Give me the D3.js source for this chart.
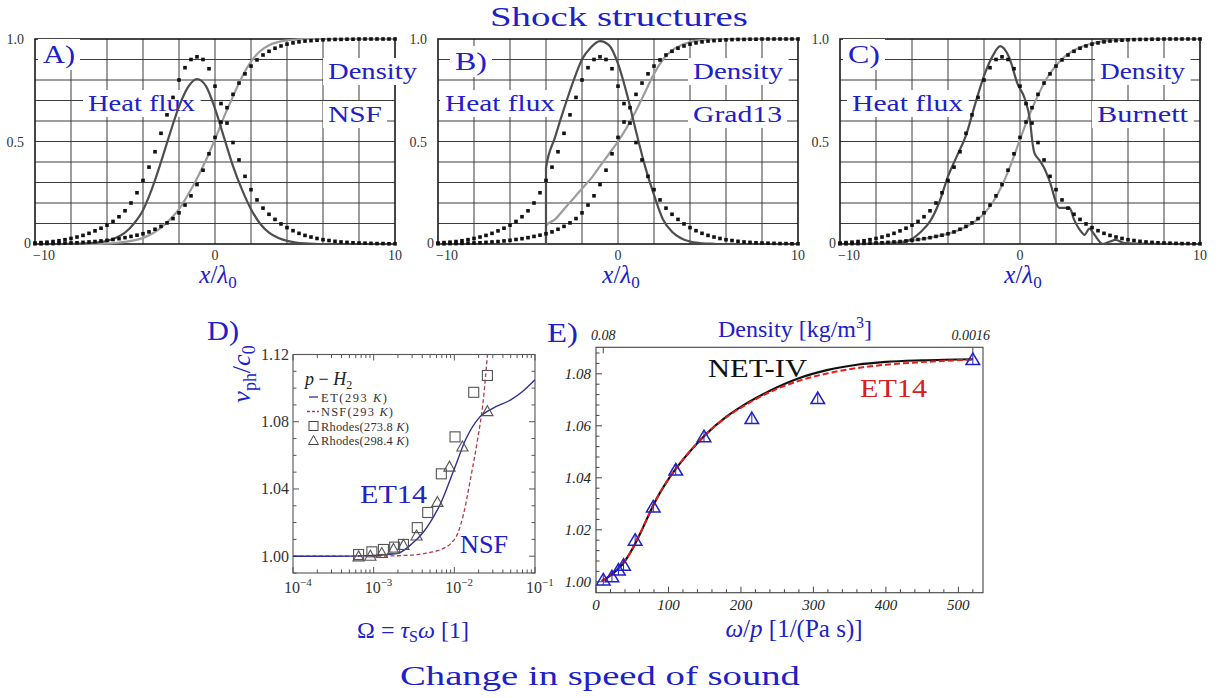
<!DOCTYPE html>
<html><head><meta charset="utf-8">
<script src="https://cdn.jsdelivr.net/npm/d3@7"></script>
<style>
body{margin:0;background:#fff}
svg{display:block}
text{font-family:"Liberation Serif","Times New Roman",serif}
</style>
</head><body>
<svg id="c" width="1222" height="698"></svg>
<script>
// ---------------- DATA ----------------
// DSMC reference (dots) sampled every 1/3 mean free path, x/lambda0 from -10 to 10
const shockX = d3.range(61).map(i => -10 + i / 3);
const dsmcHeat = [
  0.005, 0.007, 0.009, 0.012, 0.016, 0.021, 0.027, 0.034, 0.042, 0.052,
  0.064, 0.077, 0.092, 0.110, 0.133, 0.162, 0.200, 0.250, 0.310, 0.375,
  0.450, 0.540, 0.630, 0.715, 0.800, 0.860, 0.900, 0.913, 0.900, 0.855,
  0.770, 0.685, 0.590, 0.495, 0.410, 0.330, 0.265, 0.215, 0.175, 0.145,
  0.120, 0.098, 0.080, 0.065, 0.052, 0.042, 0.034, 0.027, 0.021, 0.017,
  0.013, 0.010, 0.008, 0.006, 0.005, 0.004, 0.003, 0.002, 0.002, 0.001, 0.001
];
const dsmcDensity = [
  0.001, 0.001, 0.002, 0.002, 0.003, 0.004, 0.005, 0.006, 0.008, 0.010,
  0.012, 0.015, 0.018, 0.022, 0.026, 0.031, 0.037, 0.043, 0.050, 0.059,
  0.072, 0.086, 0.103, 0.124, 0.152, 0.190, 0.235, 0.290, 0.360, 0.440,
  0.520, 0.595, 0.665, 0.730, 0.785, 0.830, 0.868, 0.898, 0.922, 0.940,
  0.955, 0.966, 0.975, 0.981, 0.986, 0.990, 0.992, 0.994, 0.996, 0.997,
  0.998, 0.998, 0.999, 0.999, 1, 1, 1, 1, 1, 1, 1
];
// model curves sampled every 0.5
const halfX = d3.range(41).map(i => -10 + i * 0.5);
const nsfHeat = [
  0, 0, 0, 0, 0.001, 0.002, 0.004, 0.008, 0.015, 0.030,
  0.055, 0.100, 0.165, 0.270, 0.400, 0.540, 0.670, 0.765, 0.805, 0.770,
  0.660, 0.520, 0.380, 0.265, 0.170, 0.100, 0.055, 0.030, 0.015, 0.007,
  0.003, 0.001, 0, 0, 0, 0, 0, 0, 0, 0, 0
];
const nsfDensity = [
  0, 0, 0, 0, 0, 0, 0, 0, 0.002, 0.005,
  0.010, 0.018, 0.030, 0.050, 0.080, 0.120, 0.170, 0.240, 0.320, 0.410,
  0.510, 0.620, 0.720, 0.815, 0.890, 0.940, 0.970, 0.985, 0.993, 0.997,
  1, 1, 1, 1, 1, 1, 1, 1, 1, 1, 1
];
const grad13X = [-10, -4.001, -4, -3.5, -3, -2.5, -2, -1.5, -1, -0.5, 0, 0.5, 1, 1.5, 2, 2.5, 3, 3.5, 4, 4.5, 5, 5.5, 10];
const grad13Heat = [0, 0, 0.37, 0.52, 0.66, 0.79, 0.90, 0.96, 0.99, 0.97, 0.88, 0.73, 0.55, 0.38, 0.24, 0.12, 0.06, 0.028, 0.012, 0.005, 0.002, 0, 0];
const grad13Density = [0, 0, 0.09, 0.12, 0.17, 0.22, 0.27, 0.32, 0.38, 0.44, 0.50, 0.57, 0.65, 0.74, 0.83, 0.90, 0.945, 0.97, 0.985, 0.993, 0.997, 1, 1];
const burnettHeatX = [-10, -7.5, -7, -6.5, -6, -5.5, -5, -4.5, -4, -3.5, -3, -2.5, -2, -1.5, -1.1, -0.6, -0.13, 0.24, 0.56, 0.7,
  0.8, 1.07, 1.35, 1.63, 2.19, 2.75, 3.0, 3.4, 3.58, 3.86, 4.1, 4.6, 5.0, 5.3, 5.8, 7, 10];
const burnettHeat = [0, 0, 0.002, 0.008, 0.025, 0.06, 0.11, 0.2, 0.33, 0.43, 0.53, 0.68, 0.82, 0.92, 0.965, 0.91, 0.78, 0.715, 0.6, 0.49,
  0.445, 0.41, 0.37, 0.31, 0.176, 0.176, 0.12, 0.06, 0.045, 0.075, 0.05, 0.0, 0.012, 0.02, 0.005, 0.001, 0];
const burnettDensity = [
  0, 0, 0.001, 0.002, 0.004, 0.006, 0.009, 0.013, 0.018, 0.024,
  0.031, 0.040, 0.050, 0.064, 0.083, 0.110, 0.148, 0.205, 0.285, 0.390,
  0.510, 0.625, 0.725, 0.810, 0.870, 0.915, 0.945, 0.965, 0.978, 0.987,
  0.993, 0.996, 0.998, 0.999, 1, 1, 1, 1, 1, 1, 1
];
const shockGridX = [-8, -6, -4, -2, 0, 2, 4, 6, 8];
const shockGridY = [0.1, 0.2, 0.3, 0.4, 0.5, 0.6, 0.7, 0.8, 0.9];

// Panel D: p-H2 dispersion
const etOmega = [1e-4, 3e-4, 1e-3, 1.5e-3, 2e-3, 3e-3, 4e-3, 5e-3, 7e-3, 1e-2, 1.4e-2, 2e-2, 3e-2, 5e-2, 7e-2, 1e-1];
const etSpeed = [1.0, 1.0, 1.0005, 1.001, 1.0017, 1.0075, 1.0135, 1.02, 1.033, 1.052, 1.07, 1.082, 1.088, 1.093, 1.098, 1.105];
const nsfOmega = [1e-4, 1e-3, 2.5e-3, 5e-3, 7e-3, 9e-3, 1.1e-2, 1.3e-2, 1.6e-2, 1.95e-2, 2.25e-2, 2.6e-2, 2.8e-2];
const nsfSpeed = [1.0, 1.0, 1.0005, 1.0022, 1.0042, 1.0075, 1.0135, 1.025, 1.047, 1.07, 1.09, 1.122, 1.14];
const rhodes273Omega = [6.5e-4, 9.5e-4, 1.32e-3, 1.82e-3, 2.34e-3, 3.47e-3, 4.68e-3, 6.9e-3, 1.02e-2, 1.74e-2, 2.57e-2];
const rhodes273Speed = [1.001, 1.0026, 1.004, 1.0054, 1.007, 1.017, 1.026, 1.049, 1.071, 1.0975, 1.1075];
const rhodes298Omega = [6.5e-4, 9.1e-4, 1.26e-3, 1.76e-3, 2.34e-3, 3.4e-3, 6.17e-3, 8.7e-3, 1.26e-2, 2.57e-2];
const rhodes298Speed = [0.9996, 1.0, 1.0016, 1.004, 1.0064, 1.012, 1.032, 1.053, 1.065, 1.086];
const dTicksY = ["1.00", "1.04", "1.08", "1.12"];
const dDecades = [-4, -3, -2, -1];
const dLegend = ["ET(293 ", "NSF(293 ", "Rhodes(273.8 ", "Rhodes(298.4 "];

// Panel E: speed vs omega/p
const netX = [8, 20, 30, 40, 50, 60, 70, 80, 100, 120, 150, 180, 210, 240, 280, 320, 360, 400, 450, 520];
const netIV = [1.0003, 1.0025, 1.0048, 1.008, 1.0125, 1.018, 1.024, 1.030, 1.0395, 1.047, 1.0563, 1.0635, 1.069, 1.0735, 1.0783, 1.0815, 1.0835, 1.0846, 1.0852, 1.0856];
const et14 = [1.0003, 1.0025, 1.0048, 1.008, 1.0125, 1.018, 1.024, 1.030, 1.0395, 1.047, 1.0563, 1.0633, 1.0686, 1.073, 1.0773, 1.0802, 1.0822, 1.0835, 1.0845, 1.0855];
const expX = [10, 22, 31, 38, 54, 79, 110, 149, 215, 306, 520];
const expSpeed = [1.0007, 1.0019, 1.0045, 1.0064, 1.016, 1.0288, 1.043, 1.0558, 1.0628, 1.0705, 1.0855];
const eTicksY = ["1.00", "1.02", "1.04", "1.06", "1.08"];
const eTicksX = [0, 100, 200, 300, 400, 500];
const eTopTicks = [{x: 10, label: "0.08"}, {x: 520, label: "0.0016"}];

// ---------------- DRAWING ----------------
const svg = d3.select('#c');
const BLUE = '#2020c8';
svg.append('rect').attr('width', 1222).attr('height', 698).attr('fill', '#fff');

function txt(g, x, y, str, o = {}) {
  const t = g.append('text').attr('x', x).attr('y', y)
    .attr('font-size', o.size || 16).attr('fill', o.fill || '#222')
    .attr('text-anchor', o.anchor || 'start');
  if (o.italic) t.attr('font-style', 'italic');
  t.text(str);
  if (o.len) t.attr('textLength', o.len).attr('lengthAdjust', 'spacingAndGlyphs');
  return t;
}
function boxed(g, x, y, str, size, len) {
  const t = txt(g, x, y, str, {size, len, fill: BLUE});
  const b = t.node().getBBox();
  g.insert('rect', () => t.node()).attr('x', b.x - 5).attr('y', b.y - 1)
    .attr('width', b.width + 10).attr('height', b.height + 2).attr('fill', '#fff');
  return t;
}

// titles
txt(svg, 619, 26, 'Shock structures', {size: 28, fill: BLUE, anchor: 'middle', len: 258});
txt(svg, 600, 685, 'Change in speed of sound', {size: 28, fill: BLUE, anchor: 'middle', len: 400});

const panels = [
  {x0: 35, x1: 395, tag: 'A)', tagY: 63, heatX: halfX, heat: nsfHeat, densX: halfX, dens: nsfDensity, name: 'NSF',
   lab: {tagX: 43, heatX: 88, heatLen: 107, densX: 328, densLen: 89, nameX: 328, nameLen: 54}, curve: d3.curveMonotoneX},
  {x0: 438, x1: 798, tag: 'B)', tagY: 70, heatX: grad13X, heat: grad13Heat, densX: grad13X, dens: grad13Density, name: 'Grad13',
   lab: {tagX: 455, heatX: 445, heatLen: 110, densX: 693, densLen: 90, nameX: 693, nameLen: 89}, curve: d3.curveMonotoneX},
  {x0: 840, x1: 1200, tag: 'C)', tagY: 63, heatX: burnettHeatX, heat: burnettHeat, densX: halfX, dens: burnettDensity, name: 'Burnett',
   lab: {tagX: 848, heatX: 852, heatLen: 111, densX: 1100, densLen: 85, nameX: 1097, nameLen: 91}, curve: d3.curveMonotoneX}
];

panels.forEach(p => {
  const x = d3.scaleLinear().domain([-10, 10]).range([p.x0, p.x1]);
  const y = d3.scaleLinear().domain([0, 1]).range([244, 39]);
  const g = svg.append('g');
  g.selectAll('line.vg').data(shockGridX).join('line').attr('class', 'vg')
    .attr('x1', d => x(d)).attr('x2', d => x(d)).attr('y1', y(0)).attr('y2', y(1))
    .attr('stroke', '#3c3c3c').attr('stroke-width', 1);
  g.selectAll('line.hg').data(shockGridY).join('line').attr('class', 'hg')
    .attr('y1', d => y(d)).attr('y2', d => y(d)).attr('x1', x(-10)).attr('x2', x(10))
    .attr('stroke', '#3c3c3c').attr('stroke-width', 1);
  g.append('rect').attr('x', x(-10)).attr('y', y(1)).attr('width', x(10) - x(-10)).attr('height', y(0) - y(1))
    .attr('fill', 'none').attr('stroke', '#1a1a1a').attr('stroke-width', 1.6);
  // tick labels
  txt(g, p.x0 - 11, y(1) + 4.5, '1.0', {size: 14, anchor: 'end', fill: '#333'});
  txt(g, p.x0 - 11, y(0.5) + 5, '0.5', {size: 14, anchor: 'end', fill: '#333'});
  txt(g, p.x0 - 4, y(0) + 4, '0', {size: 14, anchor: 'end', fill: '#333'});
  txt(g, p.x0 - 2, 260, '\u221210', {size: 14, fill: '#333'});
  txt(g, x(0), 260, '0', {size: 14, anchor: 'middle', fill: '#333'});
  txt(g, x(10), 260, '10', {size: 14, anchor: 'middle', fill: '#333'});
  // axis label x/lambda0
  const xl = g.append('text').attr('x', x(0) + 3).attr('y', 283).attr('text-anchor', 'middle')
    .attr('font-size', 25).attr('fill', BLUE);
  xl.append('tspan').attr('font-style', 'italic').text('x');
  xl.append('tspan').text('/');
  xl.append('tspan').attr('font-style', 'italic').text('\u03bb');
  xl.append('tspan').attr('font-size', 17).attr('dy', 5).text('0');
  // labels with white boxes
  boxed(g, p.lab.tagX, p.tagY, p.tag, 26, 32);
  boxed(g, p.lab.heatX, 111, 'Heat flux', 23, p.lab.heatLen);
  boxed(g, p.lab.densX, 79, 'Density', 23, p.lab.densLen);
  boxed(g, p.lab.nameX, 122, p.name, 23, p.lab.nameLen);
  // curves
  const mk = (xs, curve) => d3.line().x((d, i) => x(xs[i])).y(d => y(d)).curve(curve);
  g.append('path').attr('d', mk(p.densX, p.curve)(p.dens)).attr('fill', 'none')
    .attr('stroke', '#9c9c9c').attr('stroke-width', 2.2);
  g.append('path').attr('d', mk(p.heatX, p.curve)(p.heat)).attr('fill', 'none')
    .attr('stroke', '#4e4e4e').attr('stroke-width', 2.2);
  // DSMC dots
  [dsmcHeat, dsmcDensity].forEach(arr => {
    g.selectAll(null).data(arr).join('rect')
      .attr('x', (d, i) => x(shockX[i]) - 1.8).attr('y', d => y(d) - 1.8)
      .attr('width', 3.6).attr('height', 3.6).attr('fill', '#111');
  });
});

// ---------------- Panel D ----------------
(function () {
  const x = d3.scaleLog().domain([1e-4, 1e-1]).range([293, 535]);
  const y = d3.scaleLinear().domain([0.99, 1.12]).range([573, 354.5]);
  const g = svg.append('g');
  const L = 293, R = 535, T = 354.5, B = 573;
  g.append('defs').append('clipPath').attr('id', 'clipD').append('rect')
    .attr('x', L).attr('y', T).attr('width', R - L).attr('height', B - T);
  g.append('rect').attr('x', L).attr('y', T).attr('width', R - L).attr('height', B - T)
    .attr('fill', 'none').attr('stroke', '#555').attr('stroke-width', 1.1);
  // ticks
  const xt = [];
  dDecades.forEach(e => {
    xt.push({v: Math.pow(10, e), major: true});
    if (e < -1) for (let k = 2; k <= 9; k++) xt.push({v: k * Math.pow(10, e), major: false});
  });
  xt.forEach(t => {
    const len = t.major ? 6 : 3.5, px = x(t.v);
    g.append('line').attr('x1', px).attr('x2', px).attr('y1', B).attr('y2', B - len).attr('stroke', '#555');
    g.append('line').attr('x1', px).attr('x2', px).attr('y1', T).attr('y2', T + len).attr('stroke', '#555');
  });
  for (let k = 0; k <= 13; k++) {
    const v = 0.99 + k * 0.01, major = (k % 4 === 1), len = major ? 6 : 3.5, py = y(v);
    g.append('line').attr('x1', L).attr('x2', L + len).attr('y1', py).attr('y2', py).attr('stroke', '#555');
    g.append('line').attr('x1', R).attr('x2', R - len).attr('y1', py).attr('y2', py).attr('stroke', '#555');
  }
  dTicksY.forEach(s => txt(g, 289, y(+s) + 5.5, s, {size: 16, anchor: 'end', fill: '#333'}));
  dDecades.forEach(e => {
    const t = g.append('text').attr('x', x(Math.pow(10, e)) - 9).attr('y', 593).attr('font-size', 16).attr('fill', '#333');
    t.append('tspan').text('10');
    t.append('tspan').attr('font-size', 11).attr('dy', -7).text('\u2212' + (-e));
  });
  // curves
  const ln = (xs) => d3.line().x((d, i) => x(xs[i])).y(d => y(d)).curve(d3.curveMonotoneX);
  g.append('path').attr('clip-path', 'url(#clipD)').attr('d', ln(nsfOmega)(nsfSpeed)).attr('fill', 'none')
    .attr('stroke', '#b23a4c').attr('stroke-width', 1.3).attr('stroke-dasharray', '4,2.5');
  g.append('path').attr('clip-path', 'url(#clipD)').attr('d', ln(etOmega)(etSpeed)).attr('fill', 'none')
    .attr('stroke', '#2f2f96').attr('stroke-width', 1.4);
  // markers
  g.selectAll(null).data(rhodes273Speed).join('rect')
    .attr('x', (d, i) => x(rhodes273Omega[i]) - 5).attr('y', d => y(d) - 5).attr('width', 10).attr('height', 10)
    .attr('fill', 'none').attr('stroke', '#555').attr('stroke-width', 1.1);
  const tri = 'M0,-6 L5.6,4 L-5.6,4 Z';
  g.selectAll(null).data(rhodes298Speed).join('path')
    .attr('d', tri).attr('transform', (d, i) => `translate(${x(rhodes298Omega[i])},${y(d)})`)
    .attr('fill', 'none').attr('stroke', '#555').attr('stroke-width', 1.1);
  // legend
  const pt = g.append('text').attr('x', 305).attr('y', 385).attr('font-size', 18).attr('fill', '#222');
  pt.append('tspan').attr('font-style', 'italic').text('p');
  pt.append('tspan').text(' \u2212 ');
  pt.append('tspan').attr('font-style', 'italic').text('H');
  pt.append('tspan').attr('font-size', 12).attr('dy', 4).text('2');
  const legY = [397, 411.5, 426, 440.5];
  const legLen = [66, 72, 88, 88];
  dLegend.forEach((s, i) => {
    const ly = legY[i];
    if (i === 0) g.append('line').attr('x1', 309).attr('x2', 318).attr('y1', ly).attr('y2', ly).attr('stroke', '#2f2f96').attr('stroke-width', 1.3);
    if (i === 1) g.append('line').attr('x1', 307).attr('x2', 319).attr('y1', ly).attr('y2', ly).attr('stroke', '#b23a4c').attr('stroke-width', 1.3).attr('stroke-dasharray', '3,2');
    if (i === 2) g.append('rect').attr('x', 309).attr('y', ly - 4.5).attr('width', 9).attr('height', 9).attr('fill', 'none').attr('stroke', '#444');
    if (i === 3) g.append('path').attr('d', 'M0,-5 L5,4 L-5,4 Z').attr('transform', `translate(313.5,${ly})`).attr('fill', 'none').attr('stroke', '#444');
    const t = g.append('text').attr('x', 321).attr('y', ly + 4.5).attr('font-size', 12.4).attr('fill', '#333')
      .attr('textLength', legLen[i]).attr('lengthAdjust', 'spacing');
    t.append('tspan').text(s);
    t.append('tspan').attr('font-style', 'italic').text('K');
    t.append('tspan').text(')');
  });
  txt(g, 360, 503, 'ET14', {size: 25, fill: BLUE, len: 67});
  txt(g, 460, 553, 'NSF', {size: 25, fill: BLUE, len: 48});
  txt(g, 207, 340, 'D)', {size: 28, fill: BLUE, len: 32});
  // y label
  const yl = g.append('text').attr('transform', 'translate(250,374) rotate(-90)').attr('text-anchor', 'middle')
    .attr('font-size', 26).attr('fill', BLUE);
  yl.append('tspan').attr('font-style', 'italic').text('v');
  yl.append('tspan').attr('font-size', 18).attr('dy', 6).text('ph');
  yl.append('tspan').attr('dy', -6).text('/');
  yl.append('tspan').attr('font-style', 'italic').text('c');
  yl.append('tspan').attr('font-size', 18).attr('dy', 5).text('0');
  // x label
  const xl = g.append('text').attr('x', 413).attr('y', 638).attr('text-anchor', 'middle').attr('font-size', 24).attr('fill', BLUE);
  xl.append('tspan').text('\u03a9 = ');
  xl.append('tspan').attr('font-style', 'italic').text('\u03c4');
  xl.append('tspan').attr('font-size', 16).attr('dy', 4).text('S');
  xl.append('tspan').attr('font-style', 'italic').attr('dy', -4).text('\u03c9');
  xl.append('tspan').text(' [1]');
})();

// ---------------- Panel E ----------------
(function () {
  const x = d3.scaleLinear().domain([0, 534]).range([596, 983]);
  const y = d3.scaleLinear().domain([0.9958, 1.0902]).range([592.7, 347.3]);
  const L = 596, R = 983, T = 347.3, B = 592.7;
  const g = svg.append('g');
  g.append('rect').attr('x', L).attr('y', T).attr('width', R - L).attr('height', B - T)
    .attr('fill', 'none').attr('stroke', '#444').attr('stroke-width', 1.1);
  for (let v = 0; v <= 520; v += 20) {
    const len = v % 100 === 0 ? 6 : 3.5;
    g.append('line').attr('x1', x(v)).attr('x2', x(v)).attr('y1', B).attr('y2', B - len).attr('stroke', '#444');
  }
  for (let k = 0; k <= 22; k++) {
    const v = 1.0 + k * 0.004, len = k % 5 === 0 ? 6 : 3.5;
    g.append('line').attr('x1', L).attr('x2', L + len).attr('y1', y(v)).attr('y2', y(v)).attr('stroke', '#444');
  }
  eTopTicks.forEach(t => {
    g.append('line').attr('x1', x(t.x)).attr('x2', x(t.x)).attr('y1', T).attr('y2', T + 6).attr('stroke', '#444');
    txt(g, x(t.x) + (t.x > 300 ? -2 : 0), 340, t.label, {size: 14, italic: true, anchor: 'middle', fill: '#222'});
  });
  eTicksY.forEach(s => txt(g, 591, y(+s) + 5, s, {size: 15, italic: true, anchor: 'end', fill: '#222'}));
  eTicksX.forEach(v => txt(g, x(v), 610, String(v), {size: 15, italic: true, anchor: 'middle', fill: '#222'}));
  // curves
  const ln = d3.line().x((d, i) => x(netX[i])).y(d => y(d)).curve(d3.curveMonotoneX);
  g.append('path').attr('d', ln(netIV)).attr('fill', 'none').attr('stroke', '#111').attr('stroke-width', 2.2);
  g.append('path').attr('d', ln(et14)).attr('fill', 'none').attr('stroke', '#e0201c').attr('stroke-width', 2)
    .attr('stroke-dasharray', '6,3');
  // experimental triangles with error bars
  g.selectAll(null).data(expSpeed).join('line')
    .attr('x1', (d, i) => x(expX[i])).attr('x2', (d, i) => x(expX[i]))
    .attr('y1', d => y(d) - 5).attr('y2', d => y(d) + 5).attr('stroke', '#2020c8').attr('stroke-width', 1);
  g.selectAll(null).data(expSpeed).join('path')
    .attr('d', 'M0,-6.5 L6.8,5 L-6.8,5 Z').attr('transform', (d, i) => `translate(${x(expX[i])},${y(d)})`)
    .attr('fill', 'none').attr('stroke', '#2020c8').attr('stroke-width', 1.5);
  txt(g, 708, 377, 'NET-IV', {size: 25, fill: '#111', len: 99});
  txt(g, 860, 397, 'ET14', {size: 25, fill: '#d62020', len: 67});
  txt(g, 547, 342, 'E)', {size: 28, fill: BLUE, len: 31});
  const tl = g.append('text').attr('x', 795).attr('y', 337).attr('text-anchor', 'middle').attr('font-size', 24).attr('fill', BLUE);
  tl.append('tspan').text('Density [kg/m');
  tl.append('tspan').attr('font-size', 16).attr('dy', -9).text('3');
  tl.append('tspan').attr('dy', 9).text(']');
  const xl = g.append('text').attr('x', 794).attr('y', 637).attr('text-anchor', 'middle').attr('font-size', 25).attr('fill', BLUE);
  xl.append('tspan').attr('font-style', 'italic').text('\u03c9');
  xl.append('tspan').text('/');
  xl.append('tspan').attr('font-style', 'italic').text('p');
  xl.append('tspan').text(' [1/(Pa s)]');
})();
</script>
</body></html>
